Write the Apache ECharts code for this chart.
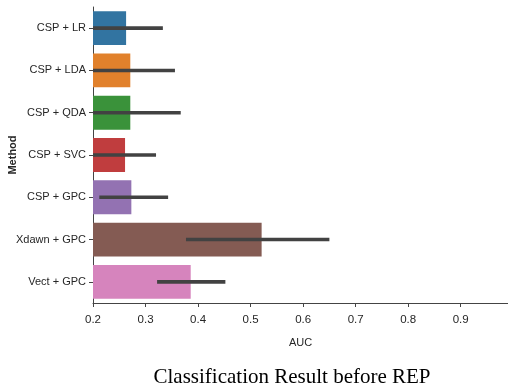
<!DOCTYPE html>
<html>
<head>
<meta charset="utf-8">
<script src="https://cdn.jsdelivr.net/npm/echarts@6/dist/echarts.min.js"></script>
<style>html,body{margin:0;padding:0;background:#fff;}#c{width:508px;height:391px;}</style>
</head>
<body>
<div id="c"></div>
<script>
const categories = ['CSP + LR', 'CSP + LDA', 'CSP + QDA', 'CSP + SVC', 'CSP + GPC', 'Xdawn + GPC', 'Vect + GPC'];
const aucMean = [0.263, 0.271, 0.271, 0.261, 0.273, 0.521, 0.386];
const ciLow = [0.19, 0.185, 0.175, 0.20, 0.212, 0.377, 0.322];
const ciHigh = [0.333, 0.356, 0.367, 0.320, 0.343, 0.650, 0.452];
const barColors = ['#3274a1', '#e1812c', '#3a923a', '#c03d3e', '#9372b2', '#845b53', '#d684bd'];
const xTicks = [0.2, 0.3, 0.4, 0.5, 0.6, 0.7, 0.8, 0.9];

const font = "'Liberation Sans', Arial, sans-serif";
const chart = echarts.init(document.getElementById('c'));
const xMin = 0.2;
chart.setOption({
  animation: false,
  backgroundColor: '#fff',
  grid: { left: 93, right: 0, top: 7, bottom: 88, containLabel: false, outerBoundsMode: 'none' },
  xAxis: {
    type: 'value', min: xMin, max: 0.99, interval: 0.1,
    name: 'AUC', nameLocation: 'middle', nameGap: 34, nameMoveOverlap: false,
    nameTextStyle: { fontFamily: font, fontSize: 11, color: '#262626' },
    axisLine: { show: true, lineStyle: { color: '#444', width: 1 } },
    axisTick: { show: true, length: 4, lineStyle: { color: '#444' } },
    axisLabel: { fontFamily: font, fontSize: 11.5, color: '#262626', margin: 11, showMaxLabel: false,
      formatter: v => xTicks.some(t => Math.abs(t - v) < 1e-9) ? v.toFixed(1) : '' },
    splitLine: { show: false }
  },
  yAxis: {
    type: 'category', data: categories, inverse: true,
    name: 'Method', nameLocation: 'middle', nameGap: 75, nameRotate: 90, nameMoveOverlap: false,
    nameTextStyle: { fontFamily: font, fontSize: 11, fontWeight: 'bold', color: '#262626' },
    axisLine: { show: true, lineStyle: { color: '#444', width: 1 } },
    axisTick: { show: true, length: 4, alignWithLabel: true, lineStyle: { color: '#444' } },
    axisLabel: { fontFamily: font, fontSize: 11, color: '#262626', margin: 7 }
  },
  series: [
    {
      type: 'bar',
      data: aucMean.map((v, i) => ({ value: v, itemStyle: { color: barColors[i] } })),
      barCategoryGap: '20%'
    },
    {
      type: 'custom',
      clip: true,
      z: 5,
      data: ciLow.map((lo, i) => [lo, ciHigh[i], i]),
      encode: { x: [0, 1], y: 2 },
      renderItem: function (params, api) {
        const lo = Math.max(api.value(0), xMin);
        const p1 = api.coord([lo, api.value(2)]);
        const p2 = api.coord([api.value(1), api.value(2)]);
        return {
          type: 'line',
          shape: { x1: p1[0], y1: p1[1], x2: p2[0], y2: p2[1] },
          style: { stroke: '#424242', lineWidth: 3.6 }
        };
      }
    }
  ],
  graphic: [{
    type: 'text', x: 292, y: 377,
    style: { text: 'Classification Result before REP', font: "21px 'Liberation Serif', 'Times New Roman', serif",
      fill: '#000', textAlign: 'center', textVerticalAlign: 'middle' }
  }]
});
</script>
</body>
</html>
